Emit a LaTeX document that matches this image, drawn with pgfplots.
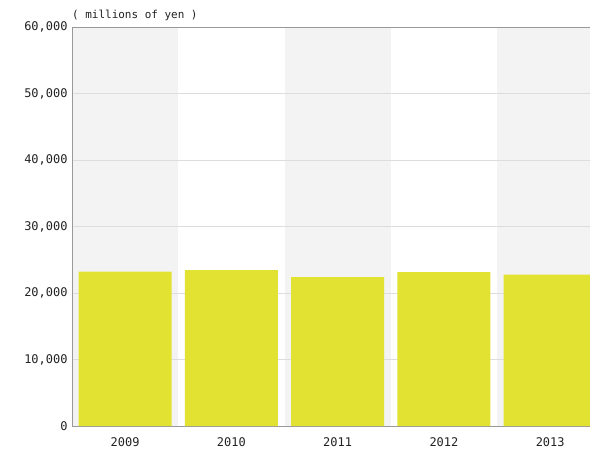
\documentclass[border=0pt]{standalone}
\usepackage{pgfplots}
\pgfplotsset{compat=1.18}
\usepackage{fontspec}
\setmainfont{DejaVu Sans Mono}
\definecolor{baryellow}{HTML}{E2E232}
\definecolor{band}{HTML}{F3F3F3}
\definecolor{gridc}{HTML}{DDDDDD}
\definecolor{axc}{HTML}{999999}
\definecolor{txt}{HTML}{222222}
\begin{document}
\begin{tikzpicture}
\begin{axis}[
  set layers,
  at={(0,0)}, anchor=south west,
  width=518bp, height=399bp, scale only axis,
  xmin=-0.5, xmax=4.375,
  ymin=0, ymax=60000,
  ytick={0,10000,...,60000},
  xtick={0,1,2,3,4},
  xticklabels={2009,2010,2011,2012,2013},
  scaled y ticks=false,
  /pgf/number format/.cd, 1000 sep={,}, assume math mode=true, /pgfplots/.cd,
  ymajorgrids, grid style={gridc, line width=0.8pt},
  major tick length=0pt,
  axis x line*=bottom, axis y line*=left,
  axis line style={axc, line width=0.8pt},
  tick label style={font=\fontsize{12}{13}\selectfont, text=txt},
  yticklabel style={xshift=-1bp},
  xticklabel style={yshift=-8bp},
  clip=false,
]
\begin{pgfonlayer}{axis background}
\fill[band] (axis cs:-0.5,0) rectangle (axis cs:0.5,60000);
\fill[band] (axis cs:1.5,0) rectangle (axis cs:2.5,60000);
\fill[band] (axis cs:3.5,0) rectangle (axis cs:4.5,60000);
\end{pgfonlayer}
\addplot[ybar, bar width=0.875, fill=baryellow, draw=none] coordinates {(0,23200) (1,23450) (2,22400) (3,23150) (4,22750)};
\draw[axc, line width=0.8pt] (rel axis cs:0,1) -- (rel axis cs:1,1);
\node[anchor=south west, inner sep=0pt, yshift=6bp, font=\fontsize{11}{12}\selectfont, text=txt] at (rel axis cs:0,1) {( millions of yen )};
\end{axis}
\pgfresetboundingbox
\path[use as bounding box] (-72bp,-35bp) rectangle (518bp,426bp);
\end{tikzpicture}
\end{document}
